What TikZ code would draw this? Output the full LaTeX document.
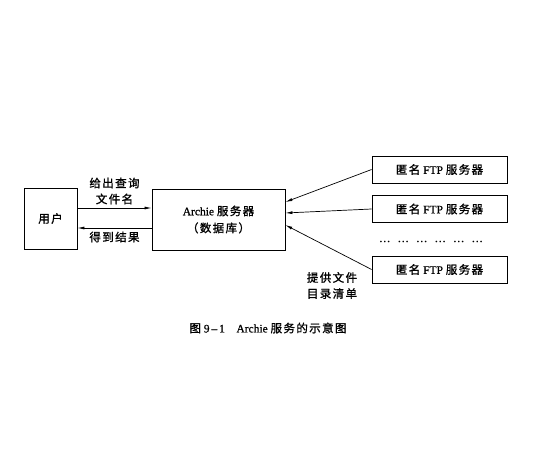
\documentclass[tikz,border=0pt]{standalone}
\usepackage{fontspec}
\setmainfont{Liberation Serif}[FakeBold=0.8]
\newfontfamily\cjk{Noto Sans CJK SC}[FakeBold=1.2, LetterSpace=12]
\usepackage{tikz}
\usetikzlibrary{arrows.meta, positioning}

\begin{document}
\begin{tikzpicture}[
    x=1pt, y=-1pt,
    every node/.style={font=\fontsize{11.5}{16}\selectfont},
    box/.style={rectangle, draw, line width=0.8pt, inner sep=0pt},
    ftpbox/.style={box, minimum width=135pt, minimum height=27pt},
    arrow/.style={-{Latex[length=7pt, width=3pt]}, line width=0.7pt}
  ]
    \useasboundingbox (0,0) rectangle (536,463);
    \node[box, minimum width=53pt, minimum height=61pt] (user) at (50.5,218.5) {\cjk 用户};
    \node[box, minimum width=133pt, minimum height=61pt, align=center] (archie) at (218.5,219.5)
      {Archie {\cjk 服务器}\\[1pt]{\cjk （数据库）}};
    \node[ftpbox] (ftp1) at (439.5,169.5) {{\cjk 匿名} FTP {\cjk 服务器}};
    \node[ftpbox] (ftp2) at (439.5,209) {{\cjk 匿名} FTP {\cjk 服务器}};
    \node[ftpbox] (ftp3) at (439.5,269.5) {{\cjk 匿名} FTP {\cjk 服务器}};
    \node (dots) at (431,241.5) {\ldots\hspace{7pt}\ldots\hspace{7pt}\ldots\hspace{7pt}\ldots\hspace{7pt}\ldots\hspace{7pt}\ldots};

    \coordinate (ask) at (0,208);
    \coordinate (get) at (0,228);
    \draw[arrow] (user.east |- ask) -- (archie.west |- ask)
      node[midway, above, align=center] (asklabel) {\cjk 给出查询\\\cjk 文件名};
    \draw[arrow] (archie.west |- get) -- (user.east |- get)
      node[midway, below] (getlabel) {\cjk 得到结果};

    \draw[arrow] (ftp1.west) -- ([yshift=17.5pt]archie.east);
    \draw[arrow] (ftp2.west) -- ([yshift=6.5pt]archie.east);
    \draw[arrow] (ftp3.west) -- ([yshift=-5.5pt]archie.east);
    \node[align=center] (listlabel) at (332,285.5) {\cjk 提供文件\\\cjk 目录清单};

    \node (caption) at (268,328) {{\cjk 图} 9\,--\,1\quad Archie {\cjk 服务的示意图}};
  \end{tikzpicture}
\end{document}
